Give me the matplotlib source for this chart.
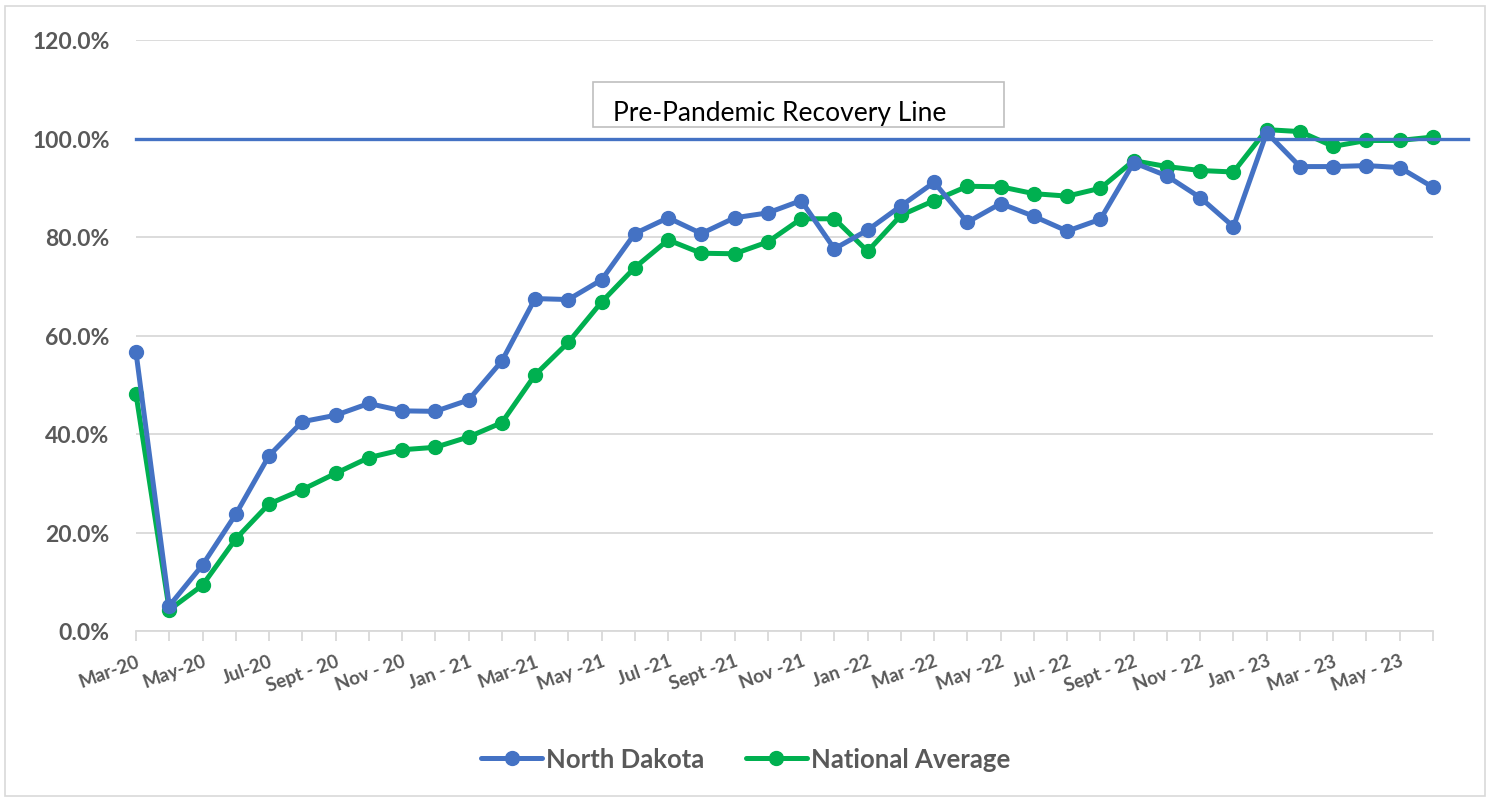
import matplotlib
matplotlib.use("Agg")
import matplotlib.pyplot as plt
from matplotlib.patches import Rectangle
from matplotlib.ticker import FuncFormatter, MultipleLocator

# ---- data ----
tick_labels = ['Mar-20', 'May-20', 'Jul-20', 'Sept - 20', 'Nov - 20', 'Jan - 21',
               'Mar-21', 'May -21', 'Jul -21', 'Sept -21', 'Nov -21', 'Jan -22',
               'Mar -22', 'May -22', 'Jul - 22', 'Sept - 22', 'Nov - 22', 'Jan - 23',
               'Mar - 23', 'May - 23']
north_dakota = [56.6, 5.1, 13.4, 23.7, 35.6, 42.5, 43.8, 46.2, 44.7, 44.6,
                46.9, 54.8, 67.5, 67.3, 71.3, 80.7, 83.9, 80.7, 83.9, 84.9,
                87.4, 77.6, 81.4, 86.3, 91.1, 83.0, 86.8, 84.2, 81.2, 83.6,
                95.1, 92.4, 88.0, 82.1, 101.2, 94.3, 94.3, 94.5, 94.1, 90.1]
national_avg = [48.1, 4.3, 9.3, 18.7, 25.8, 28.7, 32.0, 35.2, 36.8, 37.3,
                39.4, 42.3, 52.0, 58.6, 66.8, 73.8, 79.4, 76.7, 76.6, 79.0,
                83.7, 83.7, 77.1, 84.4, 87.4, 90.3, 90.2, 88.8, 88.3, 89.9,
                95.5, 94.3, 93.5, 93.2, 101.8, 101.4, 98.4, 99.6, 99.6, 100.3]
recovery_level = 100.0
series_names = ['North Dakota', 'National Average']
annotation = 'Pre-Pandemic Recovery Line'

BLUE = '#4472C4'
GREEN = '#00B050'
TXT = '#595959'
GRID = '#D9D9D9'
FONT = 'Lato'

W, H = 1491, 803
fig = plt.figure(figsize=(W / 100, H / 100), dpi=100)
fig.patch.set_facecolor('white')

# outer chart border
fig.patches.append(Rectangle((5 / W, 1 - 797 / H), 1480 / W, 790 / H,
                             transform=fig.transFigure, fill=False,
                             edgecolor=GRID, linewidth=1.2))

left, right = 136 / W, 1433 / W
top, bottom = 1 - 41 / H, 1 - 632 / H
ax = fig.add_axes([left, bottom, right - left, top - bottom])

x = list(range(len(north_dakota)))
ax.plot(x, north_dakota, color=BLUE, lw=3.6, marker='o', ms=10,
        label=series_names[0], solid_capstyle='round', zorder=4, clip_on=False)
ax.plot(x, national_avg, color=GREEN, lw=3.6, marker='o', ms=10,
        label=series_names[1], solid_capstyle='round', zorder=3, clip_on=False)

ax.set_xlim(0, len(x) - 1)
ax.set_ylim(0, 120)

# recovery line extends beyond plot area
ax.axhline(recovery_level, xmin=0, xmax=(1468 - 136) / (1433 - 136),
           color=BLUE, lw=2.4, clip_on=False, zorder=5)

# grid
ax.yaxis.set_major_locator(MultipleLocator(20))
ax.yaxis.set_major_formatter(FuncFormatter(lambda v, p: f'{v:.1f}%'))
ax.grid(axis='y', color=GRID, lw=1.3, zorder=0)
ax.set_axisbelow(True)
for s in ['top', 'right', 'left']:
    ax.spines[s].set_visible(False)
ax.spines['bottom'].set_color(GRID)
ax.spines['bottom'].set_linewidth(1.3)

ax.set_xticks(x, minor=True)
ax.set_xticks(x[::2])
ax.set_xticklabels(tick_labels, rotation=20, ha='right',
                   rotation_mode='anchor', fontsize=13.5, fontweight='bold',
                   color=TXT, family=FONT)
ax.tick_params(axis='x', which='both', length=7, color=GRID, width=1.3,
               direction='out', pad=8)
ax.tick_params(axis='y', length=0, pad=19)
for lbl in ax.get_yticklabels():
    lbl.set_fontsize(16.5)
    lbl.set_fontweight('bold')
    lbl.set_color(TXT)
    lbl.set_family(FONT)

# annotation box
fig.patches.append(Rectangle((593 / W, 1 - 128 / H), 411 / W, 45 / H,
                             transform=fig.transFigure, facecolor='white',
                             edgecolor='#BFBFBF', linewidth=1.2, zorder=6))
fig.text(613 / W, 1 - 113 / H, annotation, fontsize=19, color='black',
         family=FONT, va='center', ha='left', zorder=7)

leg = fig.legend(loc='center', bbox_to_anchor=(0.5, 1 - 760 / H), ncol=2,
                 frameon=False, handlelength=2.4, columnspacing=1.6,
                 handletextpad=0.15,
                 prop={'family': FONT, 'weight': 'bold', 'size': 18.5})
for t in leg.get_texts():
    t.set_color(TXT)

fig.savefig('out.png', dpi=100)
